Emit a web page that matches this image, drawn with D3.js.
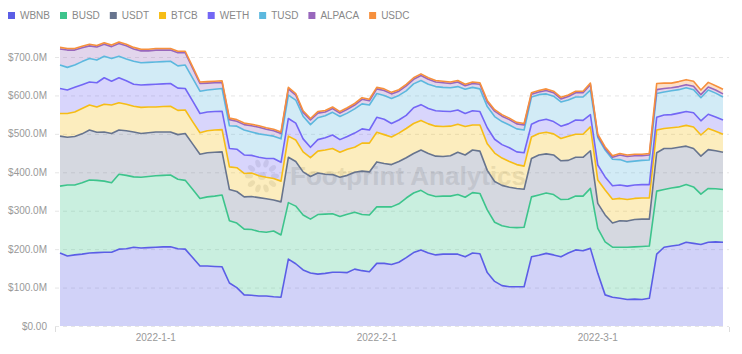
<!DOCTYPE html>
<html>
<head>
<meta charset="utf-8">
<title>Token TVL stacked area</title>
<style>
  body { margin: 0; background: #fff; }
  svg text { font-family: "Liberation Sans", Arial, sans-serif; }
</style>
<script src="https://d3js.org/d3.v7.min.js"></script>
</head>
<body>
<svg id="chart" width="742" height="354"></svg>
<script>
// series names, stacking order bottom -> top
var keys = ["WBNB", "BUSD", "USDT", "BTCB", "WETH", "TUSD", "ALPACA", "USDC"];
var colors = ["#5b5ee6", "#3dc48c", "#67748e", "#f6bd16", "#7367f5", "#5cb8de", "#9867bc", "#f6903d"];

// values in $M, one per day
var WBNB = [190,182,185,187,190,191,192,192,200,201, 205,203,204,205,206,206,201,200,178,156,
            156,155,154,112,100,81,80,78,78,76, 75,174,162,146,138,135,137,140,140,139,
            148,144,141,163,163,160,166,178,191,198, 190,185,187,187,187,180,190,188,139,116,
            105,102,102,102,180,184,189,185,180,190, 198,196,202,137,81,75,72,69,70,69,
            72,187,205,208,211,218,215,212,218,219,218];
var BUSD = [174,185,182,186,190,188,185,181,195,191, 183,184,185,186,186,187,181,179,178,176,
            180,183,187,162,168,171,171,168,166,171, 162,147,150,143,140,155,154,152,145,152,
            148,146,148,147,147,150,152,155,155,155, 152,152,151,151,155,155,157,157,163,154,
            156,155,154,155,156,157,157,157,149,140, 140,142,156,117,138,130,133,136,136,138,
            136,164,150,151,151,150,147,131,140,138,137];
var USDT = [130,124,126,127,130,125,128,128,115,116, 117,114,114,114,113,112,116,122,118,115,
            115,114,112,81,82,84,86,88,87,81, 86,118,116,112,111,108,104,102,102,101,
            104,113,112,117,113,110,110,105,103,105, 107,105,103,105,110,110,111,110,103,106,
            105,104,102,99,100,104,102,103,101,101, 101,101,98,65,70,63,69,68,71,71,
            70,100,107,103,103,100,100,99,101,99,97];
var BTCB = [59,62,64,66,65,66,72,74,71,69, 67,68,67,65,66,67,63,61,58,56,
            57,58,58,59,62,61,61,57,56,56, 54,55,56,52,49,57,63,68,65,68,
            65,73,75,77,75,72,74,76,78,77, 77,78,78,77,73,74,65,68,69,74,
            71,67,62,60,56,56,56,55,58,63, 60,60,62,61,65,62,58,56,55,55,
            55,59,52,54,53,54,56,55,55,51,47];
var WETH = [65,61,64,62,60,63,69,62,65,61, 57,58,58,59,59,59,58,56,54,50,
            49,48,48,48,48,48,46,48,49,52, 49,46,44,34,27,30,32,35,33,33,
            37,37,34,39,40,35,34,34,41,41, 40,40,40,38,37,34,37,35,42,36,
            35,36,33,35,33,33,34,32,32,32, 37,36,32,39,34,35,35,35,35,35,
            35,33,35,34,36,36,37,37,37,37,37];
var TUSD = [61,59,58,60,61,59,56,59,56,57, 60,58,58,58,58,58,58,61,59,58,
            57,58,59,59,60,65,61,61,61,58, 61,61,60,59,59,57,57,59,60,61,
            63,65,65,62,62,65,64,64,62,63, 63,63,62,62,61,63,61,59,55,59,
            60,59,60,59,71,68,66,66,63,62, 60,61,64,72,70,69,66,63,62,63,
            64,62,60,62,61,62,60,60,63,62,60];
var ALPACA = [42,45,39,36,33,34,31,31,33,34, 32,31,30,31,30,29,34,32,26,20,
              18,17,16,16,13,14,16,17,15,14, 14,16,13,10,12,12,10,10,9,10,
              10,12,11,12,13,12,11,13,12,13, 13,12,12,11,12,9,10,12,12,14,
              14,14,13,13,7,7,9,9,8,9, 11,11,14,4,4,5,12,14,14,12,
              13,10,9,8,8,8,9,8,8,8,8];
var USDC = [4,4,4,4,4,4,4,4,4,4, 4,4,4,4,4,4,4,4,4,4,
            4,4,4,4,4,4,4,4,4,4, 4,4,4,4,4,4,4,4,4,4,
            4,4,4,4,4,4,4,4,4,4, 4,4,4,4,4,4,4,4,4,4,
            4,4,4,4,4,4,4,4,4,4, 4,4,4,4,4,4,4,4,4,4,
            4,16,14,12,13,13,13,12,12,11,12];

var tickLabels = ["2022-1-1", "2022-2-1", "2022-3-1"];
var tickIndex = [13, 43, 73];
var yTicks = [0, 100, 200, 300, 400, 500, 600, 700];

var series = { WBNB: WBNB, BUSD: BUSD, USDT: USDT, BTCB: BTCB, WETH: WETH, TUSD: TUSD, ALPACA: ALPACA, USDC: USDC };
var rows = WBNB.map(function(d, i) {
    var r = { i: i };
    keys.forEach(function(k) { r[k] = series[k][i]; });
    return r;
});
var stacked = d3.stack().keys(keys)(rows);

var svg = d3.select("#chart");
var x = d3.scalePoint().domain(d3.range(rows.length)).range([60, 723]);
var y = d3.scaleLinear().domain([0, 700]).range([326, 57]);
var color = d3.scaleOrdinal().domain(keys).range(colors);

// grid
svg.append("g").selectAll("line")
    .data(yTicks).enter().append("line")
    .attr("x1", 55).attr("x2", 729)
    .attr("y1", function(d) { return y(d) + 0.5; })
    .attr("y2", function(d) { return y(d) + 0.5; })
    .attr("stroke", "#e6e6e6")
    .attr("stroke-dasharray", "4,4");

// watermark
var wm = svg.append("g").attr("opacity", 0.13);
var petals = d3.range(10);
wm.selectAll("ellipse").data(petals).enter().append("ellipse")
    .attr("cx", function(d) { return 262 + 13 * Math.cos(d / 10 * 2 * Math.PI); })
    .attr("cy", function(d) { return 176 + 13 * Math.sin(d / 10 * 2 * Math.PI); })
    .attr("rx", 4).attr("ry", 2.5)
    .attr("transform", function(d) {
        var cx = 262 + 13 * Math.cos(d / 10 * 2 * Math.PI), cy = 176 + 13 * Math.sin(d / 10 * 2 * Math.PI);
        return "rotate(" + (d * 36) + "," + cx + "," + cy + ")";
    })
    .attr("fill", "#555");
wm.append("circle").attr("cx", 262).attr("cy", 176).attr("r", 4).attr("fill", "#555");
wm.append("text").attr("x", 290).attr("y", 185)
    .attr("font-size", 26).attr("font-weight", "bold").attr("fill", "#444")
    .text("Footprint Analytics");

// areas
var area = d3.area()
    .x(function(d) { return x(d.data.i); })
    .y0(function(d) { return y(d[0]); })
    .y1(function(d) { return y(d[1]); });
var line = d3.line()
    .x(function(d) { return x(d.data.i); })
    .y(function(d) { return y(d[1]); });

svg.append("g").selectAll("path")
    .data(stacked).enter().append("path")
    .attr("d", area)
    .attr("fill", function(d) { return color(d.key); })
    .attr("fill-opacity", 0.28);

svg.append("g").selectAll("path")
    .data(stacked).enter().append("path")
    .attr("d", line)
    .attr("fill", "none")
    .attr("stroke", function(d) { return color(d.key); })
    .attr("stroke-width", 1.6)
    .attr("stroke-linejoin", "round");

// y labels
svg.append("g").selectAll("text")
    .data(yTicks).enter().append("text")
    .attr("x", 47).attr("y", function(d) { return y(d) + 3.5; })
    .attr("text-anchor", "end")
    .attr("font-size", 10).attr("fill", "#999")
    .text(function(d) { return d === 0 ? "$0.00" : "$" + d.toFixed(1) + "M"; });

// x labels
svg.append("g").selectAll("text")
    .data(tickIndex).enter().append("text")
    .attr("x", function(d) { return x(d); }).attr("y", 341)
    .attr("text-anchor", "middle")
    .attr("font-size", 10).attr("fill", "#999")
    .text(function(d, i) { return tickLabels[i]; });

svg.append("g").selectAll("line")
    .data([55, 729]).enter().append("line")
    .attr("x1", function(d) { return d + 0.5; }).attr("x2", function(d) { return d + 0.5; })
    .attr("y1", 327).attr("y2", 332)
    .attr("stroke", "#ddd");

// legend
var lx = 8;
keys.forEach(function(k) {
    svg.append("rect").attr("x", lx).attr("y", 12).attr("width", 7).attr("height", 7)
        .attr("fill", color(k));
    var t = svg.append("text").attr("x", lx + 12).attr("y", 19)
        .attr("font-size", 10).attr("fill", "#888").text(k);
    lx += 12 + t.node().getComputedTextLength() + 10;
});
</script>
</body>
</html>
